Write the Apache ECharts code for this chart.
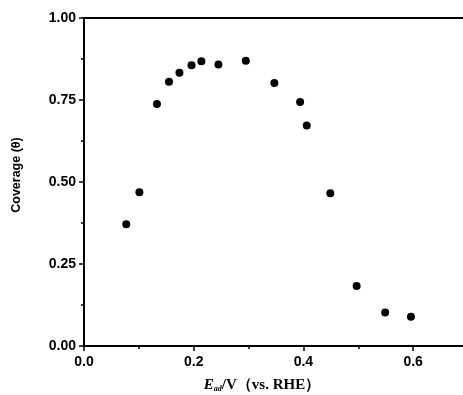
<!DOCTYPE html>
<html>
<head>
<meta charset="utf-8">
<script src="https://cdn.jsdelivr.net/npm/echarts@6/dist/echarts.min.js"></script>
<style>
  html, body { margin: 0; padding: 0; background: #fff; }
  #chart { width: 463px; height: 395px; }
</style>
</head>
<body>
<div id="chart"></div>
<script>
// Adsorption potential (V vs. RHE) and surface coverage
const potential = [0.077, 0.101, 0.133, 0.155, 0.174, 0.196, 0.214, 0.245, 0.295, 0.347, 0.394, 0.406, 0.449, 0.497, 0.549, 0.596];
const coverage  = [0.371, 0.469, 0.738, 0.806, 0.833, 0.856, 0.868, 0.858, 0.870, 0.802, 0.744, 0.672, 0.466, 0.183, 0.102, 0.089];

const xLabels = ['0.0', '0.2', '0.4', '0.6'];
const yLabels = ['0.00', '0.25', '0.50', '0.75', '1.00'];

const points = potential.map((x, i) => [x, coverage[i]]);

const labelFont = { color: '#000', fontFamily: 'Liberation Sans', fontWeight: 'bold', fontSize: 14 };

const chart = echarts.init(document.getElementById('chart'), null, { renderer: 'canvas' });

chart.setOption({
  animation: false,
  backgroundColor: '#fff',
  grid: {
    left: 84, right: -5, top: 18, bottom: 49,
    outerBoundsMode: 'none',
    containLabel: false
  },
  xAxis: [
    {
      type: 'value', min: 0, max: 0.7, interval: 0.1,
      splitLine: { show: false },
      axisLine: { lineStyle: { color: '#000', width: 2 } },
      axisTick: { length: 3, lineStyle: { color: '#000', width: 1.5 } },
      axisLabel: {
        ...labelFont, margin: 9, showMaxLabel: false,
        formatter: (v) => {
          const s = v.toFixed(1);
          return xLabels.includes(s) ? s : '';
        }
      },
      name: '{e|E}{sub|ad}{t|/V（vs. RHE）}',
      nameLocation: 'middle',
      nameGap: 32,
      nameTextStyle: {
        padding: [0, 28, 0, 0],
        rich: {
          e: { fontFamily: 'Liberation Serif', fontStyle: 'italic', fontWeight: 'bold', fontSize: 15, color: '#000' },
          sub: { fontFamily: 'Liberation Serif', fontStyle: 'italic', fontWeight: 'bold', fontSize: 8, color: '#000', verticalAlign: 'bottom', padding: [6, 0, 0, 0] },
          t: { fontFamily: 'Liberation Serif', fontWeight: 'bold', fontSize: 15, color: '#000' }
        }
      }
    },
    {
      // longer ticks at the labelled values
      type: 'value', min: 0, max: 0.7, interval: 0.2, position: 'bottom',
      splitLine: { show: false },
      axisLine: { show: false },
      axisTick: { length: 5, lineStyle: { color: '#000', width: 1.5 } },
      axisLabel: { show: false }
    },
    {
      // top frame line only
      type: 'value', min: 0, max: 0.7, position: 'top',
      splitLine: { show: false },
      axisLine: { lineStyle: { color: '#000', width: 2 } },
      axisTick: { show: false },
      axisLabel: { show: false }
    }
  ],
  yAxis: {
    type: 'value', min: 0, max: 1, interval: 0.25,
    splitLine: { show: false },
    axisLine: { lineStyle: { color: '#000', width: 2 } },
    axisTick: { length: 5, lineStyle: { color: '#000', width: 1.5 } },
    minorTick: { show: true, splitNumber: 2, length: 3, lineStyle: { color: '#000', width: 1.5 } },
    axisLabel: {
      ...labelFont, margin: 8,
      formatter: (v) => yLabels[Math.round(v / 0.25)]
    },
    name: 'Coverage (θ)',
    nameLocation: 'middle',
    nameGap: 61,
    nameTextStyle: {
      color: '#000', fontFamily: 'Liberation Sans Narrow, Liberation Sans', fontWeight: 'bold', fontSize: 12.5,
      padding: [0, 0, 0, 14]
    }
  },
  series: [{
    type: 'scatter',
    xAxisIndex: 0,
    data: points,
    symbol: 'circle',
    symbolSize: 8,
    itemStyle: { color: '#000', opacity: 1 }
  }]
});
</script>
</body>
</html>
